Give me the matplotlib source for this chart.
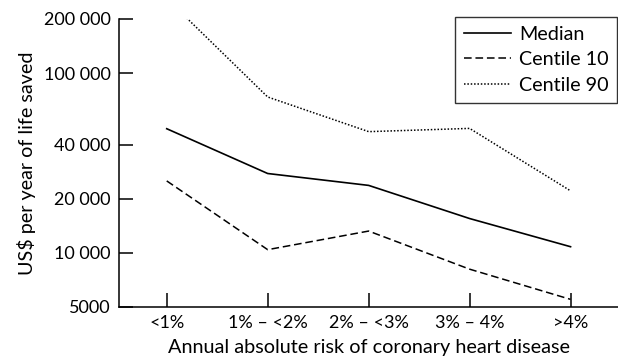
import matplotlib
matplotlib.use("Agg")
import matplotlib.pyplot as plt
from matplotlib.ticker import FixedLocator, NullLocator

plt.rcParams['font.family'] = ['Lato', 'DejaVu Sans']

# risk categories and cost per year of life saved (US$)
categories = ['<1%', '1% \u2013 <2%', '2% \u2013 <3%', '3% \u2013 4%', '>4%']
median = [49000, 27600, 23700, 15500, 10800]
centile10 = [25100, 10400, 13200, 8100, 5500]
centile90 = [260000, 73600, 47200, 49200, 22100]

yticks = [5000, 10000, 20000, 40000, 100000, 200000]
ytick_labels = ['5000', '10 000', '20 000', '40 000', '100 000', '200 000']

fig = plt.figure(figsize=(6.18, 3.58), dpi=100)
ax = fig.add_axes([0.193, 0.143, 0.807, 0.804])

x = range(len(categories))
ax.plot(x, median, color='black', lw=1.2, ls='-', label='Median')
ax.plot(x, centile10, color='black', lw=1.1, ls=(0, (5, 2.5)), label='Centile 10')
ax.plot(x, centile90, color='black', lw=1.1, ls=(0, (1, 1.2)), label='Centile 90')

ax.set_yscale('log')
ax.set_ylim(5000, 200000)
ax.set_xlim(-0.47, 4.47)
ax.yaxis.set_major_locator(FixedLocator(yticks))
ax.yaxis.set_minor_locator(NullLocator())
ax.set_yticklabels(ytick_labels)
ax.set_xticks(list(x))
ax.set_xticklabels(categories)

ax.tick_params(axis='both', direction='in', length=10, width=1.1, labelsize=13, color='black')
ax.tick_params(axis='y', pad=6)
ax.tick_params(axis='x', pad=6)

for side in ['top', 'right']:
    ax.spines[side].set_visible(False)
for side in ['left', 'bottom']:
    ax.spines[side].set_linewidth(1.1)

ax.set_xlabel('Annual absolute risk of coronary heart disease', fontsize=14.3, labelpad=6)
ax.set_ylabel('US$ per year of life saved', fontsize=14.2, labelpad=6)

leg = ax.legend(loc='upper right', fontsize=14.2, frameon=True, fancybox=False, borderaxespad=0,
                handlelength=2.4, handletextpad=0.4, labelspacing=0.42, borderpad=0.45)
leg.get_frame().set_edgecolor('black')
leg.get_frame().set_linewidth(1.0)
leg.set_bbox_to_anchor((0.999, 0.952), transform=fig.transFigure)

fig.savefig('out.png', dpi=100)
